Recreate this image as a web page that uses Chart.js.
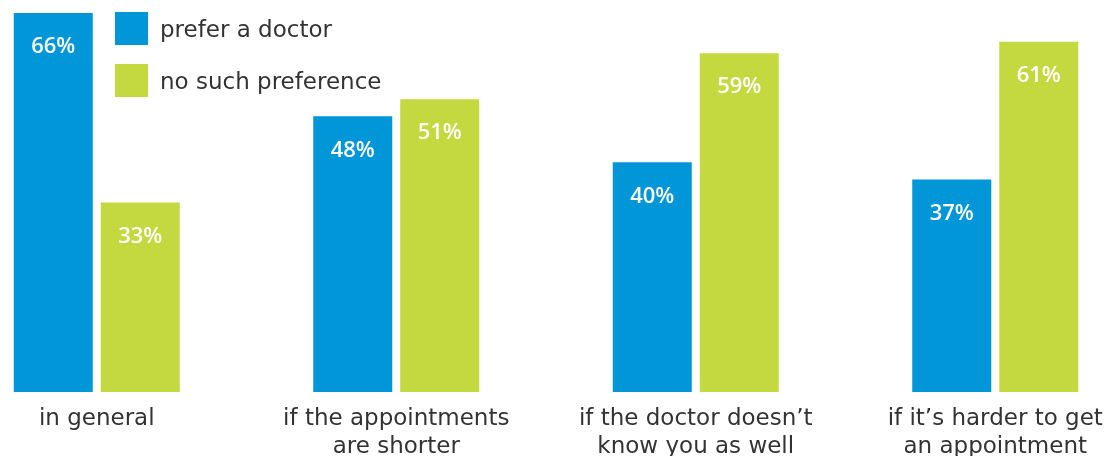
<!DOCTYPE html>
<html>
<head>
<meta charset="utf-8">
<script src="https://cdn.jsdelivr.net/npm/chart.js@4/dist/chart.umd.min.js"></script>
<style>
  html, body { margin: 0; padding: 0; background: #fff; overflow: hidden; }
  body { width: 1104px; height: 456px; position: relative; }
  #wrap { position: absolute; left: -53px; top: 0; width: 1198px; height: 480px; }
</style>
</head>
<body>
<div id="wrap"><canvas id="chart"></canvas></div>
<script>
const categories = [
    'in general',
    ['if the appointments', 'are shorter'],
    ['if the doctor doesn\u2019t', 'know you as well'],
    ['if it\u2019s harder to get', 'an appointment']
];
const preferDoctor = [66, 48, 40, 37];
const noPreference = [33, 51, 59, 61];
const seriesNames = ['prefer a doctor', 'no such preference'];

const BLUE = '#0096d7';
const GREEN = '#c3d93f';
const TEXT = '#333333';

// white percentage label near the top of each bar
const valueLabels = {
    id: 'valueLabels',
    afterDatasetsDraw(chart) {
        const ctx = chart.ctx;
        ctx.save();
        ctx.fillStyle = '#fff';
        ctx.font = '600 22px "Open Sans", sans-serif';
        ctx.textAlign = 'center';
        ctx.textBaseline = 'middle';
        chart.data.datasets.forEach((ds, i) => {
            chart.getDatasetMeta(i).data.forEach((bar, j) => {
                ctx.fillText(ds.data[j] + '%', bar.x, bar.y + 34);
            });
        });
        ctx.restore();
    }
};

// square swatches with labels in the top-left corner
const squareLegend = {
    id: 'squareLegend',
    afterDraw(chart) {
        const ctx = chart.ctx;
        ctx.save();
        ctx.font = '23px "DejaVu Sans", sans-serif';
        ctx.textBaseline = 'middle';
        chart.data.datasets.forEach((ds, i) => {
            const x = 168, y = 12 + i * 52;
            ctx.fillStyle = ds.backgroundColor;
            ctx.fillRect(x, y, 33, 33);
            ctx.fillStyle = TEXT;
            ctx.fillText(ds.label, x + 45, y + 19);
        });
        ctx.restore();
    }
};

new Chart(document.getElementById('chart'), {
    type: 'bar',
    data: {
        labels: categories,
        datasets: [
            { label: seriesNames[0], data: preferDoctor, backgroundColor: BLUE },
            { label: seriesNames[1], data: noPreference, backgroundColor: GREEN }
        ]
    },
    options: {
        responsive: true,
        maintainAspectRatio: false,
        animation: false,
        categoryPercentage: 0.581,
        barPercentage: 0.908,
        layout: { padding: { top: 13, left: 0, right: 0, bottom: 0 } },
        plugins: {
            legend: { display: false },
            tooltip: { enabled: false }
        },
        scales: {
            x: {
                border: { display: false },
                grid: { display: false, drawTicks: false },
                ticks: {
                    color: TEXT,
                    padding: 13,
                    maxRotation: 0,
                    autoSkip: false,
                    font: { family: '"DejaVu Sans", sans-serif', size: 23, lineHeight: 1.22 }
                },
                afterFit(scale) { scale.height = 88; }
            },
            y: {
                display: false,
                min: 0,
                max: 66
            }
        }
    },
    plugins: [valueLabels, squareLegend]
});
</script>
</body>
</html>
